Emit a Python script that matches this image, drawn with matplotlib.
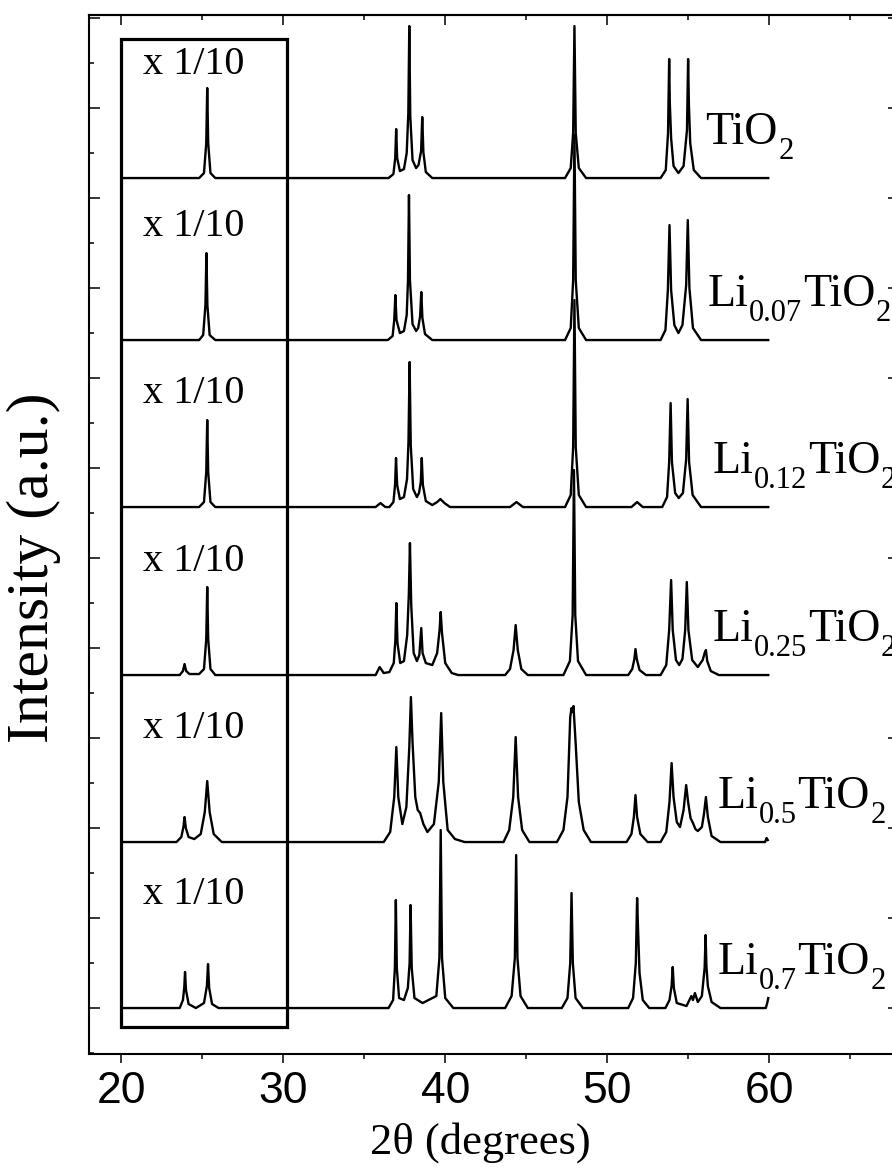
import matplotlib
matplotlib.use('Agg')
import matplotlib.pyplot as plt
from matplotlib.patches import Rectangle
from matplotlib.ticker import MultipleLocator, NullFormatter

plt.rcParams['font.family'] = ['Liberation Serif', 'DejaVu Serif']

# ---------------- data (2theta, intensity a.u.) ----------------
tio2 = [(20.0, 0), (24.8, 0), (25.1, 5), (25.24, 35), (25.30, 90), (25.36, 35), (25.5, 5), (25.8, 0),
        (36.5, 0), (36.8, 4), (36.91, 20), (36.97, 49), (37.03, 20), (37.2, 7), (37.45, 9), (37.62, 25),
        (37.72, 65), (37.78, 152), (37.84, 62), (37.98, 18), (38.2, 10), (38.35, 13), (38.51, 27),
        (38.58, 61), (38.65, 26), (38.8, 6), (39.2, 0),
        (47.4, 0), (47.75, 10), (47.9, 45), (47.98, 152), (48.06, 45), (48.25, 10), (48.7, 0),
        (53.3, 0), (53.62, 8), (53.76, 45), (53.83, 119), (53.87, 75), (53.95, 40), (54.1, 12), (54.4, 5),
        (54.72, 12), (54.93, 48), (55.0, 119), (55.05, 73), (55.13, 35), (55.35, 8), (55.8, 0), (59.95, 0)]

li007 = [(20.0, 0), (24.8, 0), (25.05, 5), (25.19, 35), (25.25, 87), (25.31, 35), (25.45, 5), (25.8, 0),
         (36.45, 0), (36.75, 4), (36.85, 20), (36.92, 45), (36.99, 20), (37.2, 7), (37.45, 9), (37.62, 25),
         (37.7, 60), (37.76, 145), (37.82, 60), (37.98, 16), (38.2, 9), (38.33, 12), (38.45, 24), (38.52, 48),
         (38.59, 22), (38.75, 6), (39.2, 0),
         (47.4, 0), (47.75, 12), (47.9, 60), (47.98, 205), (48.06, 60), (48.25, 12), (48.7, 0),
         (53.3, 0), (53.6, 10), (53.75, 50), (53.85, 115), (53.95, 50), (54.15, 15), (54.4, 7), (54.65, 15),
         (54.88, 55), (54.98, 120), (55.08, 52), (55.3, 12), (55.8, 0), (59.95, 0)]

li012 = [(20.0, 0), (24.8, 0), (25.1, 5), (25.24, 35), (25.3, 87), (25.36, 35), (25.5, 5), (25.8, 0),
         (35.7, 0), (36.0, 4), (36.3, 0),
         (36.55, 0), (36.8, 5), (36.9, 22), (36.96, 49), (37.03, 22), (37.2, 8), (37.45, 10), (37.64, 28),
         (37.73, 65), (37.8, 145), (37.87, 62), (38.02, 18), (38.25, 10), (38.38, 14), (38.49, 25), (38.55, 49),
         (38.62, 22), (38.8, 6), (39.2, 2), (39.5, 5), (39.7, 8), (39.95, 4), (40.3, 0),
         (44.0, 0), (44.4, 5), (44.8, 0),
         (47.4, 0), (47.75, 12), (47.9, 60), (47.98, 207), (48.06, 60), (48.25, 12), (48.7, 0),
         (51.5, 0), (51.85, 5), (52.2, 0),
         (53.4, 0), (53.7, 10), (53.83, 45), (53.92, 104), (54.0, 45), (54.2, 14), (54.42, 9), (54.68, 14),
         (54.88, 48), (54.97, 108), (55.06, 45), (55.28, 12), (55.8, 0), (59.95, 0)]

li025 = [(20.0, 0), (23.6, 0), (23.8, 4), (23.9, 11), (24.0, 4), (24.2, 1), (24.8, 1), (25.1, 6), (25.24, 36),
         (25.3, 88), (25.36, 36), (25.5, 6), (25.8, 0),
         (35.7, 0), (35.95, 8), (36.2, 2), (36.55, 3), (36.82, 12), (36.92, 35), (36.98, 72), (37.05, 32),
         (37.22, 12), (37.45, 14), (37.65, 40), (37.75, 80), (37.82, 132), (37.9, 70), (38.05, 22), (38.25, 14),
         (38.4, 20), (38.52, 47), (38.6, 22), (38.8, 12), (39.2, 10), (39.5, 22), (39.65, 45), (39.72, 63),
         (39.8, 42), (40.0, 12), (40.4, 2), (40.8, 0),
         (43.7, 0), (44.0, 6), (44.22, 25), (44.35, 50), (44.48, 25), (44.7, 6), (45.1, 0),
         (47.3, 0), (47.7, 14), (47.87, 60), (47.95, 205), (48.03, 60), (48.2, 14), (48.7, 0),
         (51.3, 0), (51.55, 6), (51.68, 16), (51.75, 26), (51.83, 16), (52.0, 5), (52.4, 0),
         (53.3, 0), (53.65, 10), (53.83, 45), (53.95, 95), (54.05, 45), (54.25, 15), (54.45, 10), (54.65, 16),
         (54.82, 45), (54.92, 93), (55.02, 45), (55.25, 15), (55.6, 8), (55.9, 15), (56.02, 22), (56.1, 25),
         (56.18, 14), (56.4, 4), (56.9, 0), (59.95, 0)]

li05 = [(20.0, 0), (23.4, 0), (23.7, 5), (23.83, 15), (23.9, 25), (23.98, 14), (24.15, 5), (24.5, 3), (24.9, 8),
        (25.15, 30), (25.3, 61), (25.45, 30), (25.7, 8), (26.2, 0),
        (36.2, 0), (36.6, 10), (36.85, 45), (36.98, 95), (37.1, 45), (37.35, 18), (37.6, 35), (37.78, 95),
        (37.88, 145), (37.98, 100), (38.15, 45), (38.3, 32), (38.45, 29), (38.65, 18), (38.9, 10), (39.3, 18),
        (39.6, 60), (39.75, 129), (39.88, 60), (40.15, 12), (40.6, 3), (41.2, 0),
        (43.6, 0), (43.95, 12), (44.2, 45), (44.35, 105), (44.5, 45), (44.75, 12), (45.2, 0),
        (46.9, 0), (47.3, 12), (47.55, 45), (47.72, 125), (47.8, 134), (47.86, 130), (47.92, 136), (48.05, 100),
        (48.25, 40), (48.55, 12), (49.0, 0),
        (51.2, 0), (51.5, 8), (51.65, 25), (51.75, 47), (51.85, 25), (52.05, 8), (52.5, 0),
        (53.3, 0), (53.65, 10), (53.85, 40), (53.98, 79), (54.1, 45), (54.3, 20), (54.5, 15), (54.72, 32),
        (54.88, 57), (55.0, 40), (55.15, 24), (55.3, 19), (55.45, 13), (55.6, 11), (55.85, 15), (55.98, 28),
        (56.1, 45), (56.22, 25), (56.45, 6), (57.0, 0), (59.75, 0), (59.85, 4), (59.92, 2)]

li07 = [(20.0, 0), (23.6, 0), (23.8, 8), (23.88, 20), (23.93, 36), (23.99, 18), (24.15, 4), (24.6, 0), (25.1, 5),
        (25.28, 22), (25.35, 44), (25.42, 20), (25.6, 4), (26.0, 0),
        (36.5, 0), (36.78, 8), (36.89, 40), (36.95, 108), (37.01, 40), (37.15, 10), (37.45, 8), (37.69, 20),
        (37.8, 45), (37.86, 103), (37.93, 40), (38.1, 10), (38.6, 5), (39.45, 12), (39.64, 50), (39.72, 178),
        (39.8, 50), (40.0, 10), (40.5, 0),
        (43.7, 0), (44.1, 12), (44.3, 50), (44.38, 153), (44.46, 50), (44.65, 12), (45.1, 0),
        (47.2, 0), (47.55, 10), (47.72, 45), (47.8, 115), (47.88, 45), (48.05, 10), (48.5, 0),
        (51.3, 0), (51.6, 10), (51.77, 45), (51.85, 110), (51.9, 83), (52.0, 35), (52.2, 8), (52.6, 0),
        (53.6, 0), (53.85, 8), (53.98, 22), (54.05, 41), (54.12, 20), (54.3, 5), (54.9, 2), (55.2, 12),
        (55.3, 8), (55.42, 15), (55.6, 6), (55.85, 12), (56.02, 40), (56.08, 73), (56.13, 42), (56.22, 22),
        (56.45, 6), (57.0, 0), (59.8, 0), (59.9, 6), (59.95, 10)]

traces = [tio2, li007, li012, li025, li05, li07]
# label pieces: (text, is_subscript)
sample_labels = [[('TiO', False), ('2', True)],
                 [('Li', False), ('0.07', True), ('TiO', False), ('2', True)],
                 [('Li', False), ('0.12', True), ('TiO', False), ('2', True)],
                 [('Li', False), ('0.25', True), ('TiO', False), ('2', True)],
                 [('Li', False), ('0.5', True), ('TiO', False), ('2', True)],
                 [('Li', False), ('0.7', True), ('TiO', False), ('2', True)]]
offsets = [830, 668, 501, 333, 166, 0]
label_x = [56.05, 56.2, 56.5, 56.5, 56.8, 56.8]
scale_note = 'x 1/10'

# ---------------- figure ----------------
fig = plt.figure(figsize=(8.92, 11.67), dpi=100)
ax = fig.add_axes([0.0998, 0.0968, 0.9076, 0.8903])
ax.set_xlim(18, 68)
ax.set_ylim(-46, 993)

MAIN_FS = 33
SUB_FS = 22
SUB_DROP = -10.5  # points

for tr, off, parts, lx in zip(traces, offsets, sample_labels, label_x):
    xs = [p[0] for p in tr]
    ys = [p[1] + off for p in tr]
    ax.plot(xs, ys, color='black', lw=1.7, solid_joinstyle='round')
    ybase = off + 34
    prev = None
    for txt, sub in parts:
        fs = SUB_FS if sub else MAIN_FS
        dy = SUB_DROP if sub else 0
        if prev is None:
            prev = ax.annotate(txt, xy=(lx, ybase), xycoords='data', xytext=(0, dy),
                               textcoords='offset points', fontsize=fs, ha='left', va='baseline',
                               annotation_clip=False)
        else:
            prev = ax.annotate(txt, xy=(1, ybase), xycoords=(prev, 'data'), xytext=(0.5, dy),
                               textcoords='offset points', fontsize=fs, ha='left', va='baseline',
                               annotation_clip=False)
    ax.text(21.36, off + 104, scale_note, fontsize=29, ha='left', va='baseline')

ax.add_patch(Rectangle((20.0, -19), 10.25, 988, fill=False, lw=2.3, ec='black', zorder=5))

for s in ax.spines.values():
    s.set_linewidth(1.5)

ax.xaxis.set_major_locator(MultipleLocator(10))
ax.xaxis.set_minor_locator(MultipleLocator(5))
ax.yaxis.set_major_locator(MultipleLocator(90))
ax.yaxis.set_minor_locator(MultipleLocator(45))
ax.yaxis.set_major_formatter(NullFormatter())
ax.tick_params(axis='x', which='major', direction='out', length=6.5, width=1.1, labelsize=32, pad=6)
ax.tick_params(axis='x', which='minor', direction='out', length=3.6, width=1.1)
ax.tick_params(axis='y', which='major', direction='in', length=8, width=1.1, left=True, right=True)
ax.tick_params(axis='y', which='minor', direction='in', length=3.6, width=1.1, left=True, right=True)
for t in ax.get_xticklabels():
    t.set_fontfamily('Liberation Sans')

sec = ax.secondary_xaxis('top')
sec.xaxis.set_major_locator(MultipleLocator(10))
sec.xaxis.set_minor_locator(MultipleLocator(5))
sec.tick_params(axis='x', which='major', direction='in', length=7, width=1.1, labeltop=False)
sec.tick_params(axis='x', which='minor', direction='in', length=3.6, width=1.1)
sec.spines['top'].set_linewidth(1.5)

ax.set_xlabel('2θ (degrees)', fontsize=32)
ax.xaxis.set_label_coords(0.483, -0.065)
ax.xaxis.label.set_va('top')
ax.set_ylabel('Intensity (a.u.)', fontsize=43)
ax.yaxis.set_label_coords(-0.034, 0.468)

fig.savefig('out.png', dpi=100)
